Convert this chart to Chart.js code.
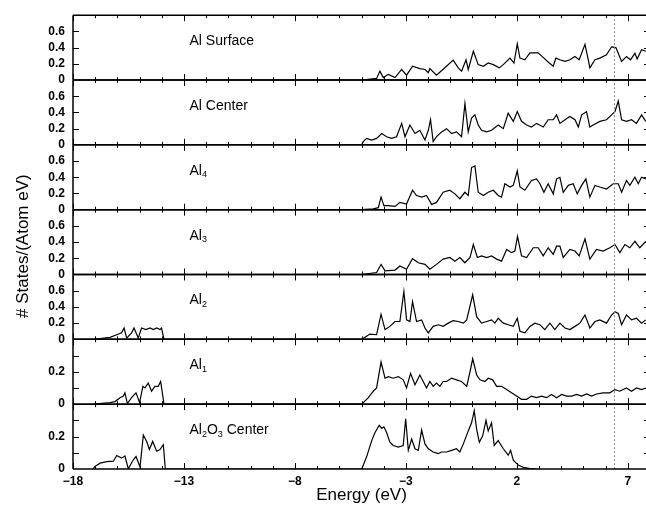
<!DOCTYPE html>
<html>
<head>
<meta charset="utf-8">
<script src="https://cdn.jsdelivr.net/npm/chart.js@4.4.1/dist/chart.umd.min.js"></script>
<style>
  html, body { margin: 0; padding: 0; background: #fff; overflow: hidden; }
  #wrap { position: relative; width: 660px; height: 506px; }
</style>
</head>
<body>
<div id="wrap"><canvas id="dosChart"></canvas></div>
<script>
// energy axis
const energyTicks = [-18, -13, -8, -3, 2, 7];
const markerEnergy = 6.4; // dotted vertical line

// panel labels, top to bottom ([text, isSubscript] parts)
const panelLabels = [
  [['Al Surface', false]],
  [['Al Center', false]],
  [['Al', false], ['4', true]],
  [['Al', false], ['3', true]],
  [['Al', false], ['2', true]],
  [['Al', false], ['1', true]],
  [['Al', false], ['2', true], ['O', false], ['3', true], [' Center', false]]
];

// y ranges / ticks
const panelMax = [0.8, 0.8, 0.8, 0.8, 0.8, 0.4, 0.4];
const yTicksWide = [0, 0.2, 0.4, 0.6, 0.8];
const yLabelsWide = [0, 0.2, 0.4, 0.6];
const yTicksNarrow = [0, 0.1, 0.2, 0.3, 0.4];
const yLabelsNarrow = [0, 0.2];

// DOS curves: [energy (eV), states/(atom eV)]
const alSurface = [[-4.99,0],[-4.32,0.02],[-4.17,0.11],[-4.02,0.03],[-3.79,0.07],[-3.49,0.03],[-3.19,0.13],[-2.97,0.06],[-2.70,0.17],[-2.37,0.14],[-2.14,0.13],[-1.99,0.09],[-1.92,0.14],[-1.62,0.06],[-1.17,0.17],[-0.87,0.245],[-0.64,0.15],[-0.49,0.11],[-0.29,0.25],[-0.19,0.13],[0.04,0.355],[0.26,0.19],[0.49,0.17],[0.71,0.21],[0.94,0.19],[1.21,0.15],[1.39,0.19],[1.69,0.27],[1.87,0.21],[2.02,0.445],[2.14,0.27],[2.36,0.25],[2.59,0.335],[2.96,0.335],[3.22,0.27],[3.46,0.21],[3.64,0.17],[3.76,0.27],[3.94,0.25],[4.17,0.23],[4.39,0.25],[4.62,0.29],[4.81,0.25],[5.07,0.44],[5.22,0.25],[5.29,0.15],[5.52,0.25],[5.74,0.27],[6.04,0.31],[6.27,0.41],[6.46,0.40],[6.57,0.33],[6.72,0.23],[6.94,0.29],[7.12,0.25],[7.32,0.33],[7.42,0.26],[7.62,0.375],[7.81,0.355]];

const alCenter = [[-4.99,0],[-4.92,0.04],[-4.77,0.08],[-4.54,0.06],[-4.32,0.08],[-4.09,0.14],[-3.87,0.10],[-3.64,0.08],[-3.42,0.10],[-3.19,0.265],[-3.04,0.10],[-2.82,0.245],[-2.59,0.14],[-2.37,0.18],[-2.14,0.06],[-1.99,0.18],[-1.89,0.31],[-1.77,0.04],[-1.62,0.10],[-1.39,0.16],[-1.17,0.20],[-0.94,0.14],[-0.72,0.16],[-0.49,0.10],[-0.34,0.51],[-0.19,0.16],[-0.04,0.33],[0.11,0.37],[0.26,0.245],[0.41,0.18],[0.64,0.16],[0.86,0.18],[1.16,0.245],[1.39,0.20],[1.61,0.39],[1.84,0.29],[2.02,0.41],[2.21,0.29],[2.44,0.245],[2.66,0.22],[2.89,0.265],[3.19,0.22],[3.41,0.31],[3.64,0.31],[3.79,0.37],[3.94,0.265],[4.17,0.31],[4.39,0.35],[4.62,0.31],[4.77,0.22],[4.92,0.37],[5.14,0.41],[5.29,0.22],[5.44,0.245],[5.74,0.29],[6.04,0.31],[6.27,0.37],[6.42,0.41],[6.57,0.54],[6.72,0.31],[6.94,0.29],[7.17,0.31],[7.39,0.265],[7.62,0.37],[7.81,0.29]];

const al4 = [[-4.99,0],[-4.47,0.01],[-4.24,0.025],[-4.12,0.155],[-3.99,0.05],[-3.79,0.05],[-3.49,0.04],[-3.27,0.09],[-2.97,0.07],[-2.70,0.24],[-2.52,0.175],[-2.29,0.155],[-2.07,0.175],[-1.84,0.065],[-1.62,0.09],[-1.32,0.215],[-1.02,0.24],[-0.79,0.195],[-0.57,0.135],[-0.34,0.215],[-0.19,0.175],[-0.04,0.52],[0.11,0.54],[0.26,0.215],[0.49,0.175],[0.71,0.215],[0.94,0.24],[1.16,0.175],[1.31,0.155],[1.46,0.32],[1.69,0.28],[1.84,0.30],[2.02,0.48],[2.14,0.28],[2.36,0.24],[2.66,0.36],[2.89,0.38],[3.04,0.32],[3.22,0.215],[3.41,0.32],[3.64,0.195],[3.79,0.38],[3.94,0.40],[4.09,0.215],[4.32,0.30],[4.54,0.32],[4.72,0.195],[4.92,0.30],[5.11,0.38],[5.29,0.155],[5.52,0.30],[5.74,0.28],[6.04,0.255],[6.34,0.32],[6.57,0.32],[6.72,0.215],[6.94,0.36],[7.09,0.30],[7.32,0.40],[7.47,0.32],[7.62,0.40],[7.81,0.38]];

const al3 = [[-4.99,0],[-4.32,0.025],[-4.12,0.125],[-3.94,0.045],[-3.49,0.055],[-3.27,0.105],[-2.97,0.065],[-2.70,0.195],[-2.44,0.145],[-2.14,0.125],[-1.92,0.065],[-1.62,0.125],[-1.32,0.19],[-1.02,0.21],[-0.79,0.165],[-0.57,0.21],[-0.34,0.145],[-0.11,0.21],[0.04,0.37],[0.22,0.21],[0.41,0.23],[0.64,0.21],[0.86,0.23],[1.09,0.19],[1.31,0.165],[1.54,0.31],[1.76,0.27],[1.91,0.29],[2.03,0.47],[2.21,0.23],[2.44,0.21],[2.74,0.33],[2.96,0.33],[3.19,0.23],[3.41,0.33],[3.64,0.25],[3.79,0.35],[3.94,0.35],[4.09,0.21],[4.39,0.31],[4.62,0.29],[4.81,0.23],[5.07,0.44],[5.29,0.19],[5.59,0.31],[5.89,0.29],[6.19,0.33],[6.42,0.37],[6.64,0.27],[6.87,0.37],[7.09,0.33],[7.32,0.41],[7.54,0.33],[7.81,0.41]];

const al2 = [[-17.05,0],[-16.33,0.025],[-16.03,0.057],[-15.81,0.08],[-15.70,0.14],[-15.58,0.016],[-15.36,0.08],[-15.25,0.14],[-15.06,0.016],[-14.91,0.14],[-14.71,0.12],[-14.53,0.14],[-14.38,0.12],[-14.23,0.14],[-14.08,0.12],[-14.01,0.14],[-13.90,0],
  [-4.99,0],[-4.62,0.065],[-4.32,0.057],[-4.12,0.31],[-3.94,0.12],[-3.72,0.16],[-3.49,0.22],[-3.27,0.22],[-3.09,0.59],[-2.97,0.24],[-2.82,0.22],[-2.70,0.465],[-2.52,0.22],[-2.29,0.24],[-2.14,0.14],[-1.99,0.08],[-1.77,0.16],[-1.54,0.18],[-1.32,0.16],[-1.09,0.20],[-0.87,0.23],[-0.64,0.22],[-0.41,0.20],[-0.26,0.24],[0.01,0.55],[0.19,0.28],[0.41,0.20],[0.64,0.22],[0.86,0.24],[1.01,0.20],[1.16,0.26],[1.39,0.20],[1.61,0.18],[1.84,0.16],[2.02,0.26],[2.14,0.10],[2.36,0.08],[2.59,0.16],[2.81,0.20],[3.04,0.18],[3.26,0.12],[3.49,0.20],[3.71,0.12],[3.94,0.20],[4.17,0.14],[4.39,0.12],[4.62,0.16],[4.84,0.20],[5.07,0.30],[5.29,0.14],[5.52,0.22],[5.74,0.24],[6.04,0.20],[6.27,0.30],[6.42,0.34],[6.57,0.32],[6.72,0.18],[6.94,0.30],[7.17,0.24],[7.39,0.26],[7.62,0.20],[7.81,0.24]];

const al1 = [[-17.05,0],[-16.33,0.01],[-16.11,0.016],[-15.88,0.04],[-15.73,0.05],[-15.66,0.07],[-15.55,0.004],[-15.36,0.04],[-15.16,0.07],[-15.00,0.01],[-14.85,0.11],[-14.76,0.10],[-14.61,0.13],[-14.46,0.08],[-14.31,0.11],[-14.16,0.11],[-14.05,0.14],[-13.90,0],
  [-4.99,0],[-4.69,0.04],[-4.47,0.08],[-4.32,0.10],[-4.12,0.26],[-3.94,0.16],[-3.79,0.17],[-3.57,0.16],[-3.34,0.17],[-3.12,0.15],[-2.97,0.10],[-2.79,0.19],[-2.59,0.12],[-2.37,0.18],[-2.22,0.14],[-2.07,0.10],[-1.92,0.14],[-1.77,0.11],[-1.62,0.13],[-1.47,0.11],[-1.32,0.14],[-1.17,0.14],[-0.94,0.16],[-0.72,0.15],[-0.49,0.14],[-0.26,0.11],[-0.11,0.20],[0.01,0.28],[0.19,0.18],[0.34,0.15],[0.56,0.14],[0.71,0.16],[0.91,0.15],[1.09,0.11],[1.31,0.11],[1.54,0.09],[1.76,0.07],[1.99,0.05],[2.21,0.03],[2.44,0.03],[2.66,0.05],[2.89,0.04],[3.11,0.05],[3.34,0.04],[3.56,0.06],[3.79,0.04],[4.02,0.06],[4.24,0.05],[4.47,0.05],[4.69,0.06],[4.92,0.05],[5.14,0.063],[5.37,0.05],[5.59,0.063],[5.89,0.07],[6.19,0.07],[6.42,0.09],[6.64,0.08],[6.94,0.10],[7.17,0.08],[7.39,0.10],[7.62,0.09],[7.81,0.10]];

const al2o3Center = [[-17.1,0],[-17.01,0.016],[-16.78,0.036],[-16.48,0.046],[-16.18,0.048],[-16.03,0.083],[-15.81,0.067],[-15.66,0.08],[-15.51,0.002],[-15.28,0.057],[-15.16,0.077],[-14.98,0.012],[-14.83,0.21],[-14.68,0.17],[-14.56,0.12],[-14.41,0.17],[-14.23,0.11],[-14.08,0.12],[-13.93,0.15],[-13.84,0],
  [-4.99,0],[-4.77,0.075],[-4.54,0.175],[-4.39,0.225],[-4.20,0.27],[-4.09,0.25],[-3.99,0.26],[-3.87,0.225],[-3.72,0.165],[-3.57,0.145],[-3.34,0.135],[-3.12,0.145],[-3.01,0.31],[-2.89,0.115],[-2.74,0.185],[-2.59,0.125],[-2.44,0.115],[-2.29,0.24],[-2.14,0.155],[-1.99,0.125],[-1.77,0.105],[-1.54,0.095],[-1.39,0.105],[-1.17,0.105],[-0.94,0.115],[-0.72,0.125],[-0.57,0.105],[-0.41,0.155],[-0.19,0.235],[-0.04,0.285],[0.08,0.36],[0.19,0.245],[0.31,0.165],[0.46,0.205],[0.61,0.30],[0.71,0.235],[0.86,0.285],[0.98,0.145],[1.16,0.175],[1.39,0.125],[1.61,0.085],[1.72,0.115],[1.84,0.055],[2.06,0.024],[2.29,0.01],[2.59,0.002],[2.89,0]];

const panelSeries = [alSurface, alCenter, al4, al3, al2, al1, al2o3Center];

const FONT = '"Liberation Sans", Arial, Helvetica, sans-serif';
const fmtTick = v => v === 0 ? '0' : v.toFixed(1);

function line(ctx, x1, y1, x2, y2) {
  ctx.beginPath();
  ctx.moveTo(x1, y1);
  ctx.lineTo(x2, y2);
  ctx.stroke();
}

const scales = {
  x: {
    type: 'linear',
    position: 'bottom',
    min: -18,
    max: 8,
    afterBuildTicks: s => { s.ticks = energyTicks.map(v => ({ value: v })); },
    afterFit: s => { s.height = 37; },
    grid: { display: false, drawTicks: false },
    border: { display: false },
    ticks: {
      autoSkip: false, maxRotation: 0, padding: 5, color: '#000',
      font: { family: FONT, size: 12, weight: 'bold' },
      callback: v => v < 0 ? '\u2212' + Math.abs(v) : String(v)
    }
  }
};

panelSeries.forEach((_, i) => {
  const narrow = panelMax[i] < 0.5;
  const tickVals = narrow ? yTicksNarrow : yTicksWide;
  const shown = narrow ? yLabelsNarrow : yLabelsWide;
  scales['y' + i] = {
    type: 'linear',
    position: 'left',
    stack: 'dos',
    stackWeight: 1,
    weight: 10 - i,
    min: 0,
    max: panelMax[i],
    afterBuildTicks: s => { s.ticks = tickVals.map(v => ({ value: v })); },
    afterFit: s => { s.width = 73; },
    grid: { display: false, drawTicks: false },
    border: { display: false },
    ticks: {
      autoSkip: false, padding: 8, color: '#000',
      font: { family: FONT, size: 12, weight: 'bold' },
      callback: v => shown.some(t => Math.abs(t - v) < 1e-6) ? fmtTick(v) : ''
    }
  };
});

// frame, inward ticks, marker line, panel labels and axis titles
const framePlugin = {
  id: 'frame',
  afterDatasetsDraw(chart) {
    const { ctx, chartArea: a } = chart;
    const xs = chart.scales.x;
    ctx.save();

    // dotted marker
    const fx = Math.round(xs.getPixelForValue(markerEnergy)) + 0.5;
    ctx.strokeStyle = '#8a8a8a';
    ctx.lineWidth = 1;
    ctx.setLineDash([2, 2]);
    line(ctx, fx, a.top, fx, a.bottom);
    ctx.setLineDash([]);

    ctx.strokeStyle = '#000';
    panelSeries.forEach((_, i) => {
      const s = chart.scales['y' + i];
      ctx.lineWidth = 1.5;
      line(ctx, a.left, s.top, a.right, s.top);
      line(ctx, a.left, s.bottom, a.right, s.bottom);

      ctx.lineWidth = 1;
      for (let e = -18; e <= 8; e++) {
        const len = (e + 18) % 5 === 0 ? 6 : 3;
        const px = Math.round(xs.getPixelForValue(e)) + 0.5;
        line(ctx, px, s.top, px, s.top + len);
        line(ctx, px, s.bottom, px, s.bottom - len);
      }
      s.ticks.forEach(t => {
        if (t.value <= 0 || t.value >= s.max) return;
        const py = Math.round(s.getPixelForValue(t.value)) + 0.5;
        line(ctx, a.left, py, a.left + 6, py);
        line(ctx, a.right, py, a.right - 6, py);
      });

      // panel label
      let tx = xs.getPixelForValue(-12.75);
      const ty = s.top + 26;
      ctx.fillStyle = '#000';
      ctx.textBaseline = 'middle';
      ctx.textAlign = 'left';
      panelLabels[i].forEach(([txt, sub]) => {
        ctx.font = (sub ? '9px ' : '14px ') + FONT;
        ctx.fillText(txt, tx, sub ? ty + 4 : ty);
        tx += ctx.measureText(txt).width;
      });
    });

    ctx.lineWidth = 1.5;
    line(ctx, a.left, a.top, a.left, a.bottom);
    line(ctx, a.right, a.top, a.right, a.bottom);

    // axis titles
    ctx.font = '17px ' + FONT;
    ctx.textAlign = 'center';
    ctx.textBaseline = 'middle';
    ctx.fillText('Energy (eV)', (a.left + a.right) / 2, 495);
    ctx.translate(23, (a.top + a.bottom) / 2 + 4);
    ctx.rotate(-Math.PI / 2);
    ctx.fillText('# States/(Atom eV)', 0, 0);
    ctx.restore();
  }
};

new Chart(document.getElementById('dosChart'), {
  type: 'line',
  data: {
    datasets: panelSeries.map((pts, i) => ({
      label: 'panel' + i,
      data: pts.map(([e, d]) => ({ x: e, y: d })),
      yAxisID: 'y' + i,
      xAxisID: 'x',
      borderColor: '#000',
      borderWidth: 1.2,
      pointRadius: 0,
      tension: 0,
      fill: false
    }))
  },
  options: {
    responsive: true,
    maintainAspectRatio: false,
    animation: false,
    devicePixelRatio: 1,
    layout: { padding: { left: 0, top: 9, right: 10, bottom: 0 } },
    plugins: { legend: { display: false }, tooltip: { enabled: false } },
    scales: scales
  },
  plugins: [framePlugin]
});
</script>
</body>
</html>
